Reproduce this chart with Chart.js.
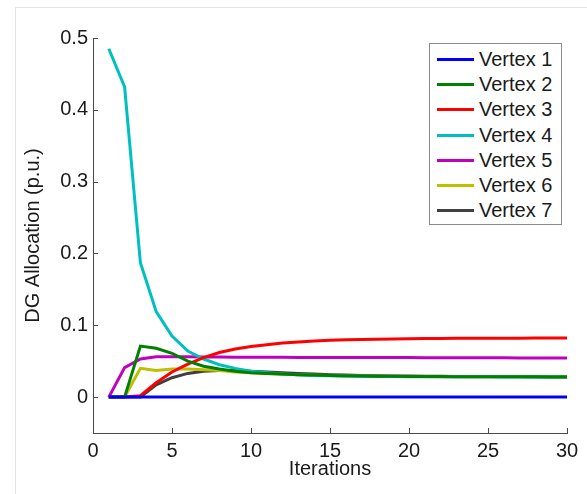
<!DOCTYPE html>
<html>
<head>
<meta charset="utf-8">
<script src="https://cdn.jsdelivr.net/npm/chart.js@4/dist/chart.umd.min.js"></script>
<style>
  html, body { margin: 0; padding: 0; background: #fff; }
  #wrap { position: relative; width: 587px; height: 494px; overflow: hidden; }
  #frame { position: absolute; left: 15px; top: 7px; width: 600px; height: 520px;
           border-left: 1px solid #e4e4e4; border-top: 1px solid #e4e4e4; }
  canvas { position: absolute; left: 0; top: 0; }
  #legend { position: absolute; left: 429px; top: 43px; width: 133px; height: 182px;
            border: 1px solid #8a8a8a; background: #fff; box-sizing: border-box;
            font-family: "Liberation Sans", Arial, sans-serif; font-size: 20px; color: #1a1a1a; }
  .row { position: absolute; left: 0; height: 25px; display: flex; align-items: center; }
  .sw { width: 37px; height: 3px; margin-left: 7px; margin-right: 5px; }
</style>
</head>
<body>
<div id="wrap">
  <div id="frame"></div>
  <canvas id="c" width="587" height="494"></canvas>
  <div id="legend"></div>
</div>
<script>
const iterations = Array.from({length: 30}, (_, i) => i + 1);
const seriesNames = ["Vertex 1", "Vertex 2", "Vertex 3", "Vertex 4", "Vertex 5", "Vertex 6", "Vertex 7"];
const seriesColors = ["#0000ff", "#008000", "#ff0000", "#00bfbf", "#bf00bf", "#bfbf00", "#404040"];

const vertex1 = [0,0,0,0,0,0,0,0,0,0,0,0,0,0,0,0,0,0,0,0,0,0,0,0,0,0,0,0,0,0];
const vertex2 = [0,0,0.071,0.068,0.061,0.050,0.043,0.039,0.036,0.034,0.0330,0.0320,0.0312,0.0306,0.0301,0.0297,0.0294,0.0291,0.0289,0.0287,0.0286,0.0285,0.0284,0.0283,0.0283,0.0282,0.0282,0.0282,0.0281,0.0281];
const vertex3 = [0,0,0.002,0.020,0.035,0.046,0.055,0.062,0.067,0.0705,0.0730,0.0752,0.0768,0.0780,0.0790,0.0797,0.0803,0.0807,0.0810,0.0813,0.0815,0.0817,0.0818,0.0819,0.0820,0.0821,0.0821,0.0822,0.0822,0.0822];
const vertex4 = [0.485,0.432,0.187,0.119,0.085,0.064,0.053,0.045,0.040,0.036,0.0340,0.0322,0.0310,0.0301,0.0296,0.0292,0.0289,0.0287,0.0285,0.0284,0.0283,0.0283,0.0282,0.0282,0.0282,0.0281,0.0281,0.0281,0.0281,0.0281];
const vertex5 = [0,0.041,0.053,0.056,0.0562,0.0560,0.0558,0.0557,0.0556,0.0555,0.0554,0.0554,0.0553,0.0553,0.0552,0.0552,0.0551,0.0551,0.0550,0.0550,0.0549,0.0549,0.0548,0.0548,0.0547,0.0547,0.0546,0.0546,0.0545,0.0545];
const vertex6 = [0,0,0.040,0.037,0.039,0.039,0.038,0.037,0.035,0.034,0.0328,0.0318,0.0310,0.0304,0.0299,0.0295,0.0292,0.0289,0.0287,0.0286,0.0285,0.0284,0.0283,0.0283,0.0282,0.0282,0.0282,0.0281,0.0281,0.0281];
const vertex7 = [0,0,0,0.017,0.027,0.033,0.036,0.037,0.037,0.036,0.0350,0.0340,0.0330,0.0320,0.0312,0.0306,0.0301,0.0297,0.0294,0.0292,0.0290,0.0289,0.0288,0.0287,0.0286,0.0285,0.0285,0.0284,0.0284,0.0284];
const seriesValues = [vertex1, vertex2, vertex3, vertex4, vertex5, vertex6, vertex7];

const xTicks = [0, 5, 10, 15, 20, 25, 30];
const yTicks = [0, 0.1, 0.2, 0.3, 0.4, 0.5];

const FONT = { family: '"Liberation Sans", Arial, sans-serif', size: 20 };
const AXIS_COLOR = '#4a4a4a';

const inwardTicks = {
  id: 'inwardTicks',
  afterDatasetsDraw(chart) {
    const ctx = chart.ctx;
    const xs = chart.scales.x, ys = chart.scales.y;
    const ca = chart.chartArea;
    ctx.save();
    ctx.strokeStyle = AXIS_COLOR;
    ctx.lineWidth = 1;
    ctx.beginPath();
    yTicks.forEach(v => {
      const p = Math.round(ys.getPixelForValue(v)) + 0.5;
      ctx.moveTo(ca.left, p); ctx.lineTo(ca.left + 5, p);
    });
    xTicks.forEach(v => {
      const p = Math.round(xs.getPixelForValue(v)) + 0.5;
      ctx.moveTo(p, ca.bottom); ctx.lineTo(p, ca.bottom - 5);
    });
    ctx.stroke();
    ctx.restore();
  }
};

new Chart(document.getElementById('c'), {
  type: 'line',
  data: {
    datasets: seriesNames.map((name, i) => ({
      label: name,
      data: iterations.map((x, j) => ({ x: x, y: seriesValues[i][j] })),
      borderColor: seriesColors[i],
      backgroundColor: seriesColors[i],
      borderWidth: 3,
      pointRadius: 0,
      tension: 0,
      fill: false
    }))
  },
  options: {
    responsive: false,
    animation: false,
    devicePixelRatio: 1,
    layout: { padding: { top: 38, right: 20, left: 0, bottom: 0 } },
    plugins: { legend: { display: false }, tooltip: { enabled: false } },
    scales: {
      x: {
        type: 'linear', min: 0, max: 30,
        afterFit: s => { s.height = 61; },
        afterBuildTicks: s => { s.ticks = xTicks.map(v => ({ value: v })); },
        grid: { display: false, drawTicks: false },
        border: { display: true, color: AXIS_COLOR, width: 1 },
        ticks: { font: FONT, color: '#1a1a1a', padding: 6, maxRotation: 0 },
        title: { display: true, text: 'Iterations', font: FONT, color: '#1a1a1a', padding: { top: 0, bottom: 13 } }
      },
      y: {
        type: 'linear', min: -0.05, max: 0.5,
        afterFit: s => { s.width = 93; },
        afterBuildTicks: s => { s.ticks = yTicks.map(v => ({ value: v })); },
        grid: { display: false, drawTicks: false },
        border: { display: true, color: AXIS_COLOR, width: 1 },
        ticks: { font: FONT, color: '#1a1a1a', padding: 5, callback: v => String(Math.round(v * 10) / 10) },
        title: { display: true, text: 'DG Allocation (p.u.)', font: FONT, color: '#1a1a1a', padding: { top: 21, bottom: 0 } }
      }
    }
  },
  plugins: [inwardTicks]
});

const legend = document.getElementById('legend');
seriesNames.forEach((name, i) => {
  const row = document.createElement('div');
  row.className = 'row';
  row.style.top = (3 + i * 25.2) + 'px';
  const sw = document.createElement('div');
  sw.className = 'sw';
  sw.style.background = seriesColors[i];
  const t = document.createElement('span');
  t.textContent = name;
  row.appendChild(sw); row.appendChild(t);
  legend.appendChild(row);
});
</script>
</body>
</html>
